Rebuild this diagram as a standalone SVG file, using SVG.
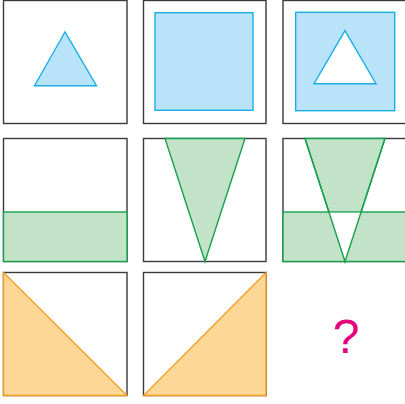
<svg xmlns="http://www.w3.org/2000/svg" width="405" height="404" viewBox="0 0 405 404">
<style>
.box{fill:#fff;stroke:#3a3a3a;stroke-width:1.4}
.blue{fill:#b9e3f8;stroke:#1aaee6;stroke-width:1.4;stroke-linejoin:miter}
.white{fill:#fff;stroke:#1aaee6;stroke-width:1.4}
.green{fill:#c2e3c8;stroke:#17a04c;stroke-width:1.4}
.orange{fill:#fdd796;stroke:#f39a1f;stroke-width:1.3}
.q{font-family:"Liberation Sans",Arial,sans-serif;font-size:48px;fill:#e5007e;text-anchor:middle}
</style>
<rect width="405" height="404" fill="#fff"/>
<g id="cell1">
<rect class="box" x="3.5" y="0.5" width="123.5" height="123"/>
<polygon class="blue" points="65,32 34.5,85.7 96.5,85.7"/>
</g>
<g id="cell2">
<rect class="box" x="143.5" y="0.5" width="122.5" height="123"/>
<rect class="blue" x="155" y="12.7" width="98" height="97.6"/>
</g>
<g id="cell3">
<rect class="box" x="283" y="0.5" width="123" height="123"/>
<rect class="blue" x="295.7" y="12.3" width="99" height="98.4"/>
<polygon class="white" points="345,30.7 314,83.7 376,83.7"/>
</g>
<g id="cell4">
<rect class="box" x="3.5" y="138.5" width="123.5" height="123"/>
<rect class="green" x="3.5" y="212" width="123.5" height="49.5"/>
</g>
<g id="cell5">
<rect class="box" x="143.5" y="138.5" width="122.5" height="123"/>
<polygon class="green" points="165,138.5 245,138.5 205,261.5"/>
</g>
<g id="cell6">
<rect class="box" x="283" y="138.5" width="123" height="123"/>
<polygon class="green" points="305,138.5 385,138.5 345,261.5"/>
<rect class="green" x="283" y="212" width="123" height="49.5"/>
<polygon fill="#fff" points="329.1,212.8 360.9,212.8 345,261"/>
<polyline fill="none" stroke="#17a04c" stroke-width="1.4" points="305,138.5 345,261.5 385,138.5"/>
</g>
<g id="cell7">
<rect class="box" x="3.5" y="272.5" width="123.5" height="123"/>
<polygon class="orange" points="3.5,272.5 127,395.5 3.5,395.5"/>
</g>
<g id="cell8">
<rect class="box" x="143.5" y="272.5" width="122.5" height="123"/>
<polygon class="orange" points="266,272.5 266,395.5 143.5,395.5"/>
</g>
<g id="cell9">
<text class="q" x="346" y="353">?</text>
</g>
<g id="connectors"></g>
</svg>
